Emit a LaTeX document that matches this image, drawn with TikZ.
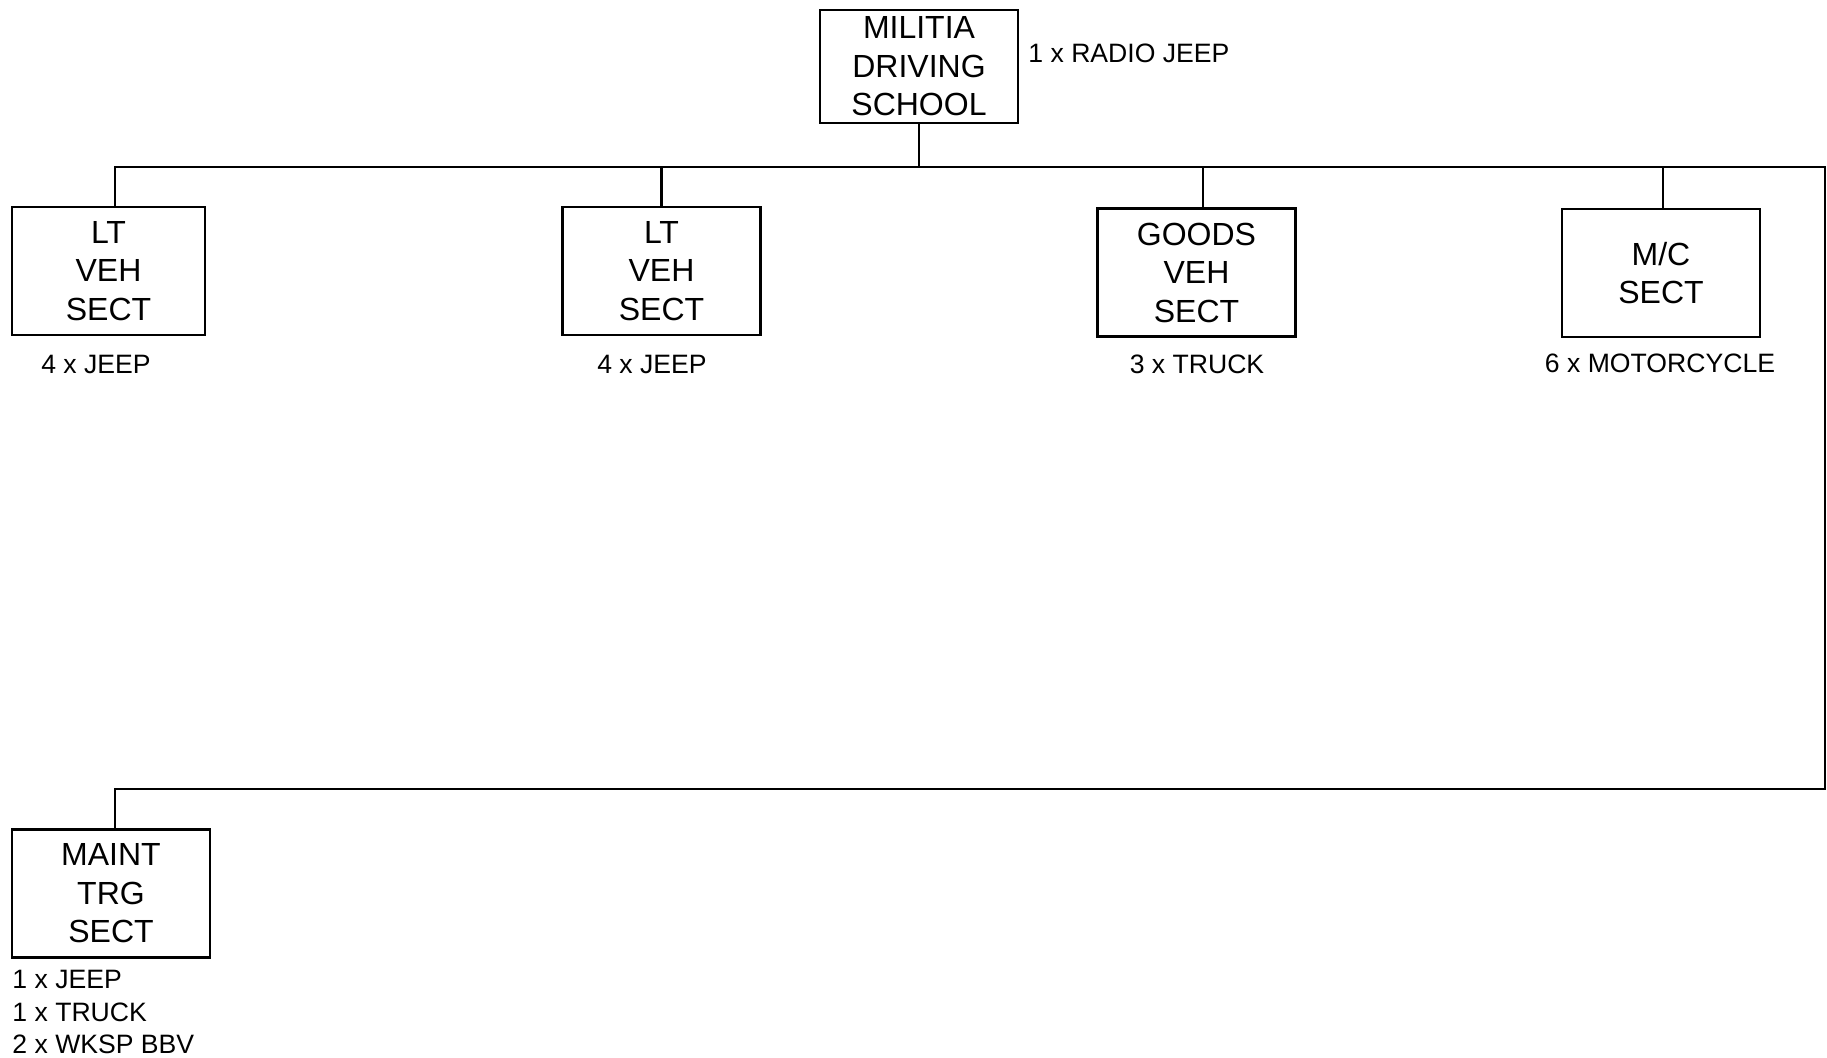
\documentclass[tikz,border=0pt]{standalone}
\usepackage{fontspec}
\setmainfont{Liberation Sans}
\usepackage{tikz}
\usetikzlibrary{positioning}

\begin{document}
\begin{tikzpicture}[
  x=0.5pt, y=-0.5pt,
  unit/.style={rectangle, draw, line width=1.2pt, minimum width=99pt, minimum height=64pt,
    inner sep=0pt, align=center, font=\fontsize{16}{19.25}\selectfont},
  link/.style={line width=1.2pt},
  kit/.style={inner sep=0pt, anchor=base, font=\fontsize{13.3}{16.25}\selectfont}
]
\useasboundingbox (0,0) rectangle (1827,1058);

% HQ
\node[unit, minimum height=56.5pt] (mds) at (919,66.5) {MILITIA\\DRIVING\\SCHOOL};
\node[kit, anchor=base west] (mdskit) at (1028,63) {1 x RADIO JEEP};

% Sections
\node[unit, minimum width=96.5pt] (lt1) at (108.5,271) {LT\\VEH\\SECT};
\node[unit] (lt2) at (661.5,271) {LT\\VEH\\SECT};
\node[unit] (goods) at (1196.5,272.5) {GOODS\\VEH\\SECT};
\node[unit] (mc) at (1661,273) {M/C\\SECT};
\node[unit] (maint) at (111,893.5) {MAINT\\TRG\\SECT};

% Vehicle holdings
\node[kit] (lt1kit) at (96,374) {4 x JEEP};
\node[kit] (lt2kit) at (652,374) {4 x JEEP};
\node[kit] (goodskit) at (1197,374) {3 x TRUCK};
\node[kit] (mckit) at (1660,373) {6 x MOTORCYCLE};
\node[kit, anchor=base west] (maintkit1) at (12,988) {1 x JEEP};
\node[kit, anchor=base west] (maintkit2) at (12,1021) {1 x TRUCK};
\node[kit, anchor=base west] (maintkit3) at (12,1053) {2 x WKSP BBV};

% Lines
\coordinate (busR) at (1825,167);
\coordinate (lowR) at (1825,789);
\draw[link] ([xshift=3.25pt]lt1.north) |- (busR) -- (lowR) -| ([xshift=2pt]maint.north);
\draw[link] (mds.south) -- (mds.south |- busR);
\draw[link] (lt2.north) -- (lt2.north |- busR);
\draw[link] ([xshift=3.25pt]goods.north) -- ([xshift=3.25pt]goods.north |- busR);
\draw[link] ([xshift=1pt]mc.north) -- ([xshift=1pt]mc.north |- busR);

\end{tikzpicture}
\end{document}
